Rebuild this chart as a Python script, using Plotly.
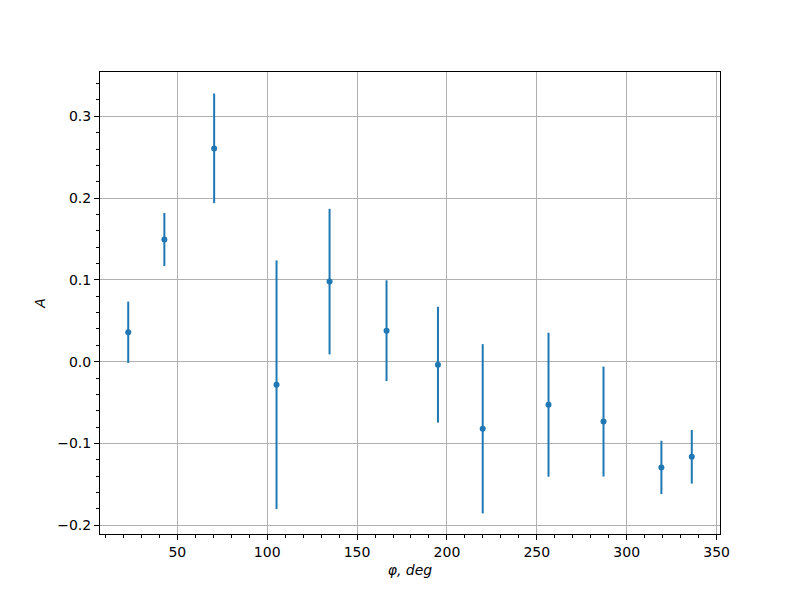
import plotly.graph_objects as go

phi = [22.7, 42.8, 70.5, 105.2, 134.7, 166.4, 195.0, 219.9, 256.5, 287.1, 319.3, 336.2]
A = [0.036, 0.1494, 0.2608, -0.0282, 0.0979, 0.0379, -0.0037, -0.082, -0.0526, -0.0732, -0.1293, -0.1163]
A_err = [0.0375, 0.0324, 0.067, 0.152, 0.089, 0.0616, 0.0708, 0.1035, 0.088, 0.0672, 0.0326, 0.0328]

x_ticks = [50, 100, 150, 200, 250, 300, 350]
y_ticks = [-0.2, -0.1, 0.0, 0.1, 0.2, 0.3]
y_ticklabels = ["\u22120.2", "\u22120.1", "0.0", "0.1", "0.2", "0.3"]

color = "#1f77b4"

fig = go.Figure()
fig.add_trace(go.Scatter(
    x=phi, y=A, mode="markers",
    marker=dict(color=color, size=6),
    error_y=dict(type="data", array=A_err, visible=True, color=color, thickness=2, width=0),
    showlegend=False,
))

font = dict(family="DejaVu Sans", size=14, color="black")

fig.update_layout(
    width=800, height=600,
    margin=dict(l=92, r=88, t=64, b=74),
    paper_bgcolor="white", plot_bgcolor="white",
    font=font,
    xaxis=dict(
        range=[7.0, 351.9],
        tickvals=x_ticks,
        ticks="outside", ticklen=5, tickwidth=1, tickcolor="black",
        showline=True, linecolor="black", linewidth=1, mirror=True,
        showgrid=True, gridcolor="#b0b0b0", gridwidth=1,
        zeroline=False,
        minor=dict(dtick=10, tick0=0, ticks="outside", ticklen=3, tickcolor="black", showgrid=False),
        title=dict(text="<i>φ, deg</i>", font=dict(family="DejaVu Sans", size=14), standoff=6),
    ),
    yaxis=dict(
        range=[-0.2107, 0.3542],
        tickvals=y_ticks, ticktext=y_ticklabels,
        ticks="outside", ticklen=5, tickwidth=1, tickcolor="black",
        showline=True, linecolor="black", linewidth=1, mirror=True,
        showgrid=True, gridcolor="#b0b0b0", gridwidth=1,
        zeroline=False,
        minor=dict(dtick=0.02, tick0=0, ticks="outside", ticklen=3, tickcolor="black", showgrid=False),
        title=dict(text="<i>A</i>", font=dict(family="DejaVu Sans", size=14), standoff=8),
    ),
)

fig.write_html("out.html")
